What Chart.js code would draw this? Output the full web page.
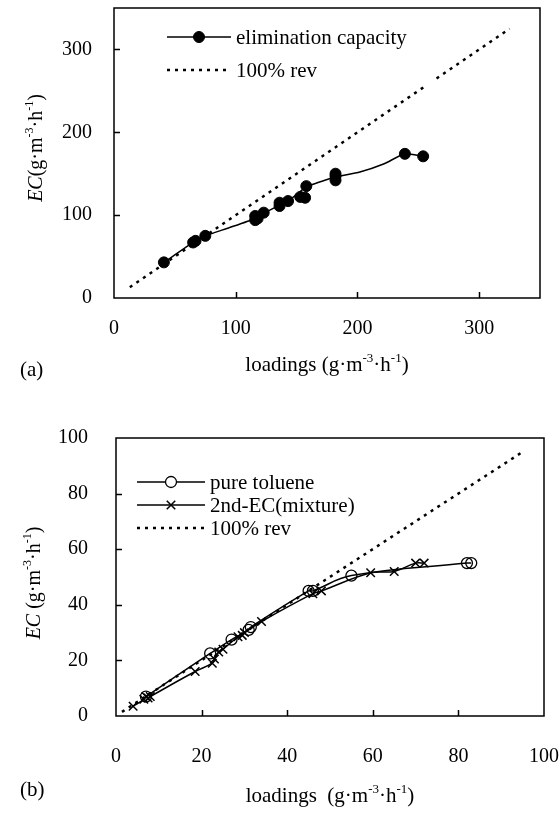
<!DOCTYPE html>
<html>
<head>
<meta charset="utf-8">
<script src="https://cdn.jsdelivr.net/npm/chart.js@4.4.1/dist/chart.umd.min.js"></script>
<style>
  body { margin: 0; background: #fff; width: 560px; height: 815px; position: relative; overflow: hidden; }
  .box { position: absolute; left: 0; width: 560px; }
  #boxA { top: 0; height: 400px; }
  #boxB { top: 400px; height: 415px; }
</style>
</head>
<body>
<div class="box" id="boxA"><canvas id="chartA"></canvas></div>
<div class="box" id="boxB"><canvas id="chartB"></canvas></div>
<script>
// (a) elimination capacity - titik data
var ecLoad = [41, 65, 67, 75, 116, 116, 118, 123, 136, 136, 143, 153, 157, 158, 182, 182, 182, 239, 254];
var ecVal  = [43, 67, 69, 75, 94, 99, 96, 103, 111, 115, 117, 122, 121, 135, 142, 147, 150, 174, 171];
// (a) kurva yang menghubungkan titik
var ecLineLoad = [41, 66, 75, 95, 116, 123, 136, 143, 158, 167, 182, 202, 222, 239, 254];
var ecLineVal  = [43, 68, 75, 85, 96, 102, 112, 117, 134, 139, 146, 152, 162, 174, 171];
// (a) garis 100% rev (ada celah kecil)
var revLoadA = [13, 255, null, 265, 325];
var revValA  = [13, 255, null, 265, 325];
var xTicksA = [0, 100, 200, 300];
var yTicksA = [0, 100, 200, 300];

// (b) pure toluene
var tolLoad = [7, 22, 27, 31, 31.5, 45, 46, 55, 82, 83];
var tolVal  = [7, 22.5, 27.5, 31, 32, 45, 45, 50.5, 55, 55];
// (b) 2nd-EC(mixture)
var mixLoad = [4, 6.5, 7, 7.5, 8, 18.5, 22.5, 23, 24, 25, 28.5, 29.5, 30, 34, 46, 48, 59.5, 65, 70, 72];
var mixVal  = [3.5, 6, 7, 6.5, 7, 16, 19, 20.5, 23, 24, 28.5, 29, 30, 34, 44, 45, 51.5, 52, 55, 55];
// (b) garis 100% rev
var revLoadB = [1.4, 95];
var revValB  = [1.5, 95];
var xTicksB = [0, 20, 40, 60, 80, 100];
var yTicksB = [0, 20, 40, 60, 80, 100];

var SERIF = "'Liberation Serif', 'Times New Roman', serif";
Chart.defaults.font.family = SERIF;
Chart.defaults.color = '#000';
Chart.defaults.animation = false;

function pts(xs, ys) {
  return xs.map(function (v, i) { return v === null ? { x: null, y: null } : { x: v, y: ys[i] }; });
}

// teks dengan superscript, parts: [{t, sup, italic}]
function drawRich(ctx, parts, cx, cy, size, rotate) {
  ctx.save();
  ctx.translate(cx, cy);
  if (rotate) ctx.rotate(-Math.PI / 2);
  ctx.textBaseline = 'alphabetic';
  ctx.textAlign = 'left';
  var fontOf = function (p) {
    var s = p.sup ? Math.round(size * 0.62) : size;
    return (p.italic ? 'italic ' : '') + s + 'px ' + SERIF;
  };
  var total = 0;
  parts.forEach(function (p) { ctx.font = fontOf(p); total += ctx.measureText(p.t).width; });
  var x = -total / 2, base = size * 0.33;
  parts.forEach(function (p) {
    ctx.font = fontOf(p);
    ctx.fillText(p.t, x, p.sup ? base - size * 0.42 : base);
    x += ctx.measureText(p.t).width;
  });
  ctx.restore();
}

var paperPlugin = {
  id: 'paper',
  afterDatasetsDraw: function (chart, args, opts) {
    var ctx = chart.ctx, a = chart.chartArea, sx = chart.scales.x, sy = chart.scales.y;
    ctx.save();
    ctx.strokeStyle = '#000';
    ctx.lineWidth = 1.5;
    ctx.strokeRect(a.left, a.top, a.right - a.left, a.bottom - a.top);
    // tick di dalam kotak
    ctx.beginPath();
    sx.ticks.forEach(function (t) {
      if (t.value <= sx.min || t.value >= sx.max) return;
      var px = Math.round(sx.getPixelForValue(t.value)) + 0.5;
      ctx.moveTo(px, a.bottom); ctx.lineTo(px, a.bottom - opts.tick);
    });
    sy.ticks.forEach(function (t) {
      if (t.value <= sy.min || t.value >= sy.max) return;
      var py = Math.round(sy.getPixelForValue(t.value)) + 0.5;
      ctx.moveTo(a.left, py); ctx.lineTo(a.left + opts.tick, py);
    });
    ctx.stroke();

    // legenda di dalam plot
    opts.legend.forEach(function (item, i) {
      var y = opts.legendY + i * opts.legendStep;
      var x0 = opts.legendX, x1 = opts.legendX + opts.legendLen;
      var ds = chart.data.datasets[item.line];
      ctx.save();
      ctx.strokeStyle = '#000';
      ctx.lineWidth = ds.borderWidth;
      ctx.setLineDash(ds.borderDash || []);
      ctx.beginPath(); ctx.moveTo(x0, y); ctx.lineTo(x1, y); ctx.stroke();
      ctx.restore();
      if (item.marker !== undefined) {
        var md = chart.data.datasets[item.marker];
        ctx.save();
        ctx.fillStyle = md.pointBackgroundColor;
        ctx.strokeStyle = md.pointBorderColor;
        ctx.lineWidth = md.pointBorderWidth;
        if (md.pointBackgroundColor === 'rgba(0,0,0,0)') {
          ctx.fillStyle = '#fff';
          ctx.beginPath(); ctx.arc((x0 + x1) / 2, y, md.pointRadius, 0, Math.PI * 2); ctx.fill();
        }
        Chart.helpers.drawPoint(ctx, {
          pointStyle: md.pointStyle, radius: md.pointRadius, rotation: 0, borderWidth: md.pointBorderWidth
        }, (x0 + x1) / 2, y);
        ctx.restore();
      }
      ctx.fillStyle = '#000';
      ctx.font = opts.legendFont + 'px ' + SERIF;
      ctx.textBaseline = 'middle';
      ctx.textAlign = 'left';
      ctx.fillText(item.text, x1 + 5, y + 1);
    });
    ctx.restore();
  },
  afterDraw: function (chart, args, opts) {
    var ctx = chart.ctx;
    ctx.save();
    ctx.fillStyle = '#000';
    drawRich(ctx, opts.xTitle, opts.xTitlePos[0], opts.xTitlePos[1], opts.xTitleFont, false);
    drawRich(ctx, opts.yTitle, opts.yTitlePos[0], opts.yTitlePos[1], opts.yTitleFont, true);
    ctx.font = opts.xTitleFont + 'px ' + SERIF;
    ctx.textBaseline = 'middle';
    ctx.fillText(opts.panel, opts.panelPos[0], opts.panelPos[1]);
    ctx.restore();
  }
};

function axis(min, max, tickVals, fixSize, pad, isX) {
  return {
    type: 'linear',
    min: min, max: max,
    grid: { display: false, drawTicks: false },
    border: { display: false },
    ticks: { font: { size: 20 }, padding: pad, color: '#000' },
    afterBuildTicks: function (s) { s.ticks = tickVals.map(function (v) { return { value: v }; }); },
    afterFit: function (s) {
      if (isX) s.height = fixSize; else s.width = fixSize;
      s.paddingTop = s.paddingBottom = s.paddingLeft = s.paddingRight = 0;
    }
  };
}

new Chart(document.getElementById('chartA'), {
  type: 'scatter',
  data: {
    datasets: [{
      label: 'kurva',
      data: pts(ecLineLoad, ecLineVal),
      showLine: true, tension: 0.2,
      borderColor: '#000', borderWidth: 1.5, pointRadius: 0
    }, {
      label: 'elimination capacity',
      data: pts(ecLoad, ecVal),
      showLine: false,
      pointStyle: 'circle', pointRadius: 5.5,
      pointBackgroundColor: '#000', pointBorderColor: '#000', pointBorderWidth: 1
    }, {
      label: '100% rev',
      data: pts(revLoadA, revValA),
      showLine: true, spanGaps: false,
      borderColor: '#000', borderWidth: 2.5, borderDash: [3, 5], pointRadius: 0
    }]
  },
  options: {
    responsive: true,
    maintainAspectRatio: false,
    layout: { padding: { top: 8, right: 20, left: 0, bottom: 0 } },
    scales: {
      x: axis(0, 350, xTicksA, 102, 19, true),
      y: axis(0, 350, yTicksA, 114, 22, false)
    },
    plugins: {
      legend: { display: false },
      tooltip: { enabled: false },
      paper: {
        tick: 6,
        legend: [
          { text: 'elimination capacity', line: 0, marker: 1 },
          { text: '100% rev', line: 2 }
        ],
        legendX: 167, legendY: 37, legendStep: 33, legendLen: 64, legendFont: 21,
        xTitleFont: 21, yTitleFont: 20,
        xTitle: [{ t: 'loadings (g\u00b7m' }, { t: '-3', sup: true }, { t: '\u00b7h' }, { t: '-1', sup: true }, { t: ')' }],
        xTitlePos: [327, 364],
        yTitle: [{ t: 'EC', italic: true }, { t: '(g\u00b7m' }, { t: '-3', sup: true }, { t: '\u00b7h' }, { t: '-1', sup: true }, { t: ')' }],
        yTitlePos: [35, 148],
        panel: '(a)', panelPos: [20, 370]
      }
    }
  },
  plugins: [paperPlugin]
});

new Chart(document.getElementById('chartB'), {
  type: 'scatter',
  data: {
    datasets: [{
      label: 'pure toluene',
      data: pts(tolLoad, tolVal),
      showLine: true, tension: 0.4,
      borderColor: '#000', borderWidth: 1.5,
      pointStyle: 'circle', pointRadius: 5.5,
      pointBackgroundColor: 'rgba(0,0,0,0)', pointBorderColor: '#000', pointBorderWidth: 1.3
    }, {
      label: '2nd-EC(mixture)',
      data: pts(mixLoad, mixVal),
      showLine: true, tension: 0.4,
      borderColor: '#000', borderWidth: 1.5,
      pointStyle: 'crossRot', pointRadius: 6,
      pointBackgroundColor: '#000', pointBorderColor: '#000', pointBorderWidth: 1.5
    }, {
      label: '100% rev',
      data: pts(revLoadB, revValB),
      showLine: true,
      borderColor: '#000', borderWidth: 2.5, borderDash: [3, 5], pointRadius: 0
    }]
  },
  options: {
    responsive: true,
    maintainAspectRatio: false,
    layout: { padding: { top: 38, right: 16, left: 0, bottom: 0 } },
    scales: {
      x: axis(0, 100, xTicksB, 99, 29, true),
      y: axis(0, 100, yTicksB, 116, 28, false)
    },
    plugins: {
      legend: { display: false },
      tooltip: { enabled: false },
      paper: {
        tick: 6,
        legend: [
          { text: 'pure toluene', line: 0, marker: 0 },
          { text: '2nd-EC(mixture)', line: 1, marker: 1 },
          { text: '100% rev', line: 2 }
        ],
        legendX: 137, legendY: 82, legendStep: 23, legendLen: 68, legendFont: 21,
        xTitleFont: 21, yTitleFont: 20,
        xTitle: [{ t: 'loadings  (g\u00b7m' }, { t: '-3', sup: true }, { t: '\u00b7h' }, { t: '-1', sup: true }, { t: ')' }],
        xTitlePos: [330, 395],
        yTitle: [{ t: 'EC', italic: true }, { t: ' (g\u00b7m' }, { t: '-3', sup: true }, { t: '\u00b7h' }, { t: '-1', sup: true }, { t: ')' }],
        yTitlePos: [33, 183],
        panel: '(b)', panelPos: [20, 390]
      }
    }
  },
  plugins: [paperPlugin]
});
</script>
</body>
</html>
